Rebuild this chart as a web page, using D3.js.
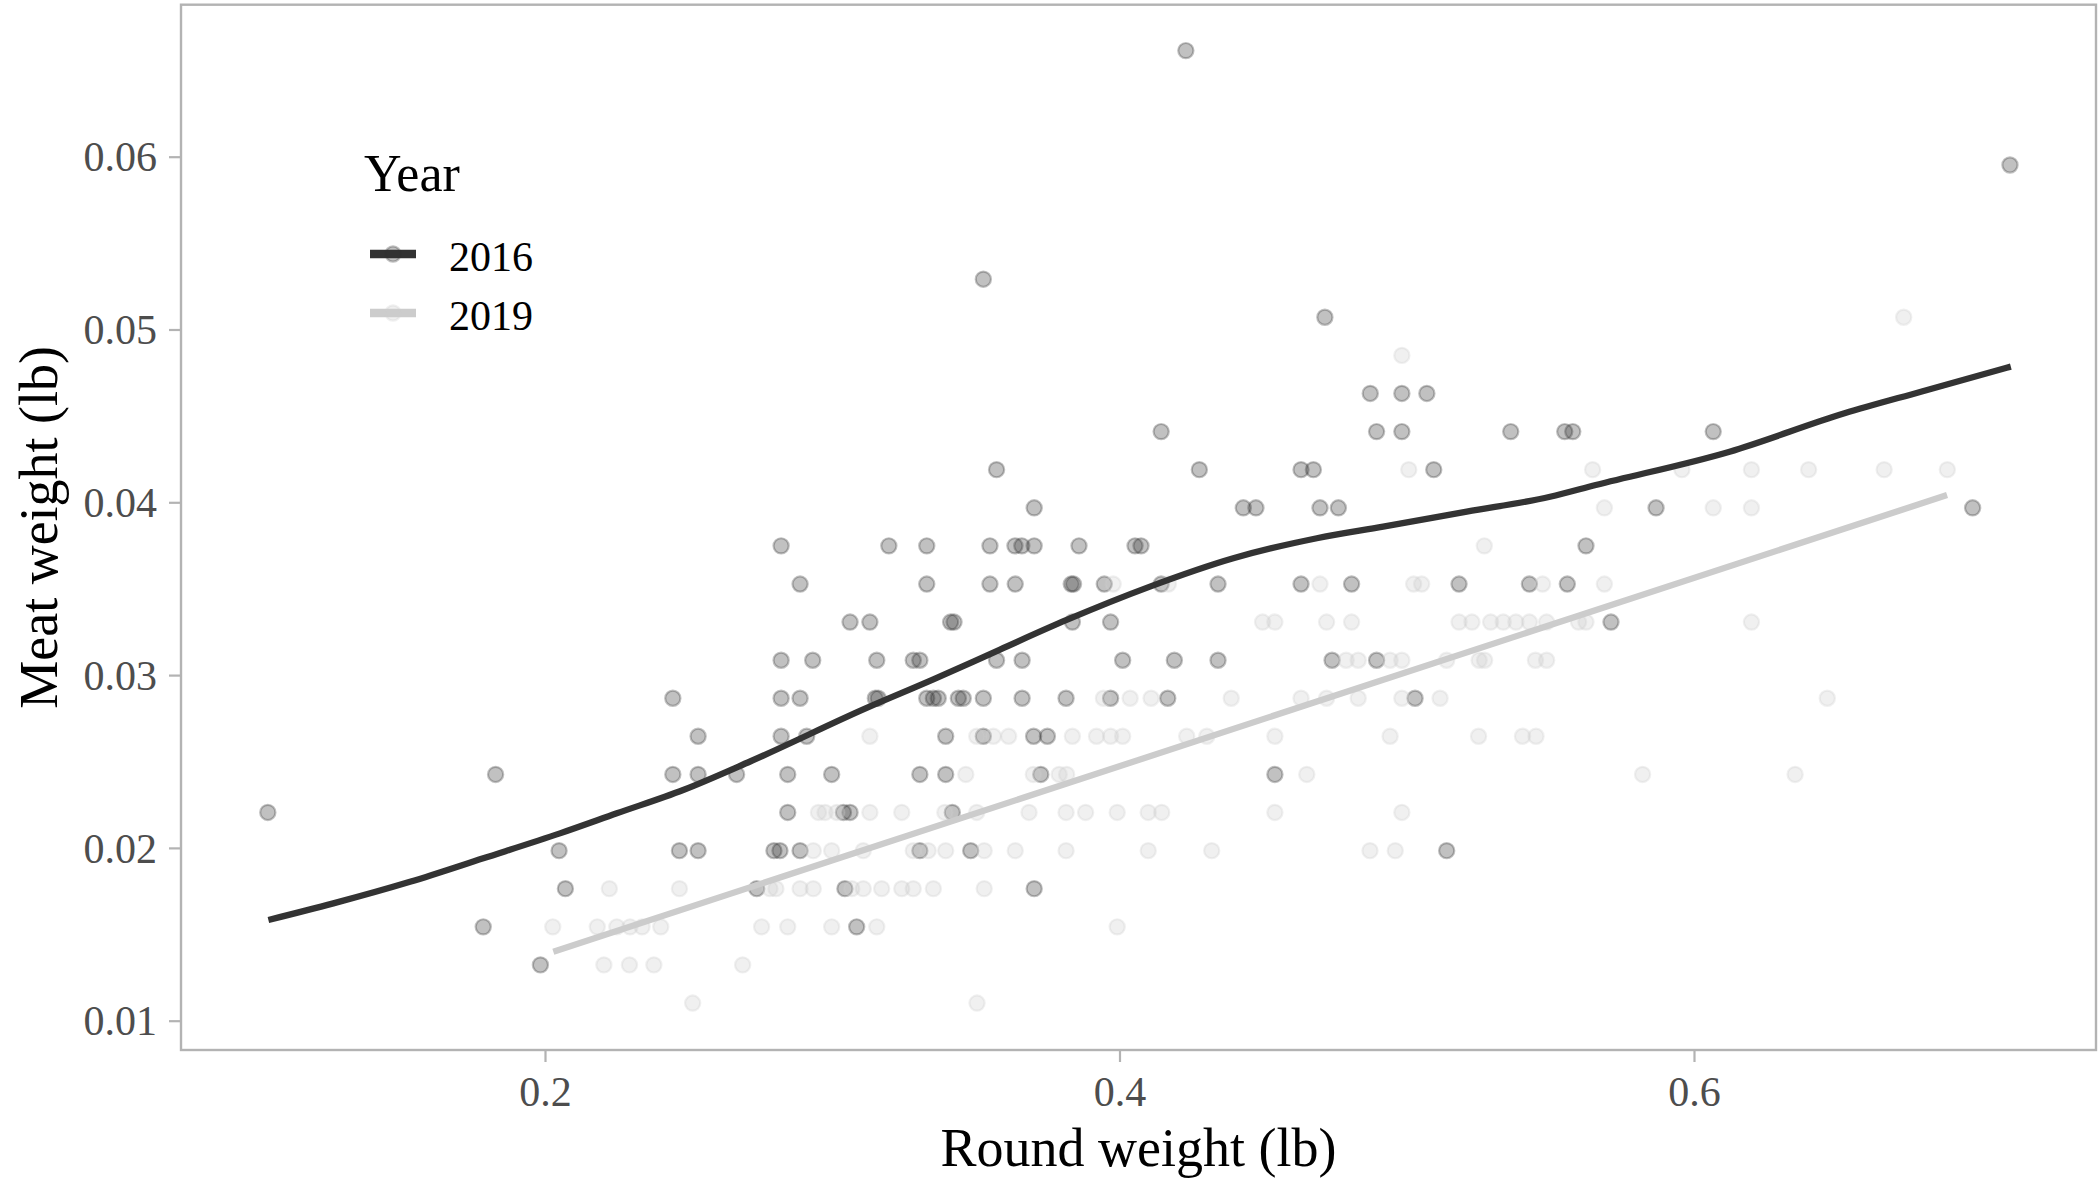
<!DOCTYPE html>
<html>
<head>
<meta charset="utf-8">
<script src="https://cdn.jsdelivr.net/npm/d3@7"></script>
<style>
  html, body { margin: 0; padding: 0; background: #ffffff; }
  svg { display: block; }
  text { font-family: "Liberation Serif", "Times New Roman", serif; }
</style>
</head>
<body>
<svg id="chart" width="2100" height="1182"></svg>
<script>
// ---------- data (lb) ----------
const years = ["2016", "2019"];

const round2016 = [
  0.1984,
  0.1785, 0.3085,
  0.2071, 0.2737, 0.3044, 0.3703,
  0.2049, 0.2468, 0.2533, 0.2797, 0.2818, 0.2888, 0.3305, 0.3482, 0.5139,
  0.1035, 0.2845, 0.3039, 0.3062, 0.3418,
  0.1828, 0.2445, 0.2533, 0.2667, 0.2845, 0.2998, 0.3305, 0.3395, 0.3726, 0.4541,
  0.2533, 0.2822, 0.2911, 0.3395, 0.3526, 0.3701, 0.3749,
  0.2445, 0.2822, 0.2888, 0.3150, 0.3160, 0.3329, 0.3352, 0.3369, 0.3439, 0.3456, 0.3526, 0.3661, 0.3814, 0.3969, 0.4168, 0.5029,
  0.2822, 0.2932, 0.3155, 0.3282, 0.3305, 0.3572, 0.3661, 0.4011, 0.4191, 0.4343, 0.4740, 0.4895,
  0.3062, 0.3131, 0.3412, 0.3424, 0.3836, 0.3969, 0.5711,
  0.2888, 0.3329, 0.3549, 0.3637, 0.3832, 0.3840, 0.3947, 0.4145, 0.4343, 0.4632, 0.4808, 0.5182, 0.5427, 0.5559,
  0.2822, 0.3197, 0.3329, 0.3549, 0.3636, 0.3660, 0.3703, 0.3859, 0.4054, 0.4075, 0.5624,
  0.3703, 0.4431, 0.4475, 0.4698, 0.4762, 0.5868, 0.6970,
  0.3572, 0.4278, 0.4632, 0.4675, 0.5094,
  0.4145, 0.4895, 0.4983, 0.5362, 0.5550, 0.5578, 0.6067,
  0.4873, 0.4983, 0.5070,
  0.4715,
  0.3526,
  0.7100,
  0.4231
];
const meat2016 = [
  0.01323,
  0.01543, 0.01543,
  0.01764, 0.01764, 0.01764, 0.01764,
  0.01984, 0.01984, 0.01984, 0.01984, 0.01984, 0.01984, 0.01984, 0.01984, 0.01984,
  0.02205, 0.02205, 0.02205, 0.02205, 0.02205,
  0.02425, 0.02425, 0.02425, 0.02425, 0.02425, 0.02425, 0.02425, 0.02425, 0.02425, 0.02425,
  0.02646, 0.02646, 0.02646, 0.02646, 0.02646, 0.02646, 0.02646,
  0.02866, 0.02866, 0.02866, 0.02866, 0.02866, 0.02866, 0.02866, 0.02866, 0.02866, 0.02866, 0.02866, 0.02866, 0.02866, 0.02866, 0.02866, 0.02866,
  0.03086, 0.03086, 0.03086, 0.03086, 0.03086, 0.03086, 0.03086, 0.03086, 0.03086, 0.03086, 0.03086, 0.03086,
  0.03307, 0.03307, 0.03307, 0.03307, 0.03307, 0.03307, 0.03307,
  0.03527, 0.03527, 0.03527, 0.03527, 0.03527, 0.03527, 0.03527, 0.03527, 0.03527, 0.03527, 0.03527, 0.03527, 0.03527, 0.03527,
  0.03748, 0.03748, 0.03748, 0.03748, 0.03748, 0.03748, 0.03748, 0.03748, 0.03748, 0.03748, 0.03748,
  0.03968, 0.03968, 0.03968, 0.03968, 0.03968, 0.03968, 0.03968,
  0.04189, 0.04189, 0.04189, 0.04189, 0.04189,
  0.04409, 0.04409, 0.04409, 0.04409, 0.04409, 0.04409, 0.04409,
  0.04630, 0.04630, 0.04630,
  0.05071,
  0.05291,
  0.05952,
  0.06614
];

const round2019 = [
  0.2514, 0.3504,
  0.2205, 0.2294, 0.2379, 0.2688,
  0.2027, 0.2182, 0.2250, 0.2296, 0.2338, 0.2403, 0.2754, 0.2845, 0.2998, 0.3155, 0.3992,
  0.2224, 0.2468, 0.2783, 0.2804, 0.2888, 0.2934, 0.3068, 0.3108, 0.3172, 0.3242, 0.3282, 0.3352, 0.3529,
  0.2934, 0.2998, 0.3108, 0.3282, 0.3334, 0.3395, 0.3529, 0.3637, 0.3814, 0.4100, 0.4321, 0.4872, 0.4960,
  0.2952, 0.2975, 0.3016, 0.3131, 0.3242, 0.3392, 0.3503, 0.3685, 0.3814, 0.3882, 0.3992, 0.4100, 0.4147, 0.4541, 0.4983,
  0.3465, 0.3700, 0.3790, 0.3816, 0.4652, 0.5821, 0.6352,
  0.3131, 0.3503, 0.3561, 0.3614, 0.3836, 0.3920, 0.3969, 0.4011, 0.4234, 0.4304, 0.4541, 0.4942, 0.5250, 0.5403, 0.5450,
  0.3944, 0.4037, 0.4110, 0.4389, 0.4632, 0.4721, 0.4831, 0.4983, 0.5116, 0.6464,
  0.4789, 0.4831, 0.4942, 0.4983, 0.5139, 0.5252, 0.5271, 0.5448, 0.5487,
  0.4498, 0.4541, 0.4721, 0.4808, 0.5182, 0.5227, 0.5292, 0.5336, 0.5380, 0.5427, 0.5487, 0.5598, 0.5624, 0.6200,
  0.3978, 0.4170, 0.4698, 0.5024, 0.5052, 0.5473, 0.5688,
  0.5270,
  0.5688, 0.6067, 0.6200,
  0.5007, 0.5647, 0.5958, 0.6200, 0.6399, 0.6662, 0.6882,
  0.4983,
  0.6730
];
const meat2019 = [
  0.01102, 0.01102,
  0.01323, 0.01323, 0.01323, 0.01323,
  0.01543, 0.01543, 0.01543, 0.01543, 0.01543, 0.01543, 0.01543, 0.01543, 0.01543, 0.01543, 0.01543,
  0.01764, 0.01764, 0.01764, 0.01764, 0.01764, 0.01764, 0.01764, 0.01764, 0.01764, 0.01764, 0.01764, 0.01764, 0.01764,
  0.01984, 0.01984, 0.01984, 0.01984, 0.01984, 0.01984, 0.01984, 0.01984, 0.01984, 0.01984, 0.01984, 0.01984, 0.01984,
  0.02205, 0.02205, 0.02205, 0.02205, 0.02205, 0.02205, 0.02205, 0.02205, 0.02205, 0.02205, 0.02205, 0.02205, 0.02205, 0.02205, 0.02205,
  0.02425, 0.02425, 0.02425, 0.02425, 0.02425, 0.02425, 0.02425,
  0.02646, 0.02646, 0.02646, 0.02646, 0.02646, 0.02646, 0.02646, 0.02646, 0.02646, 0.02646, 0.02646, 0.02646, 0.02646, 0.02646, 0.02646,
  0.02866, 0.02866, 0.02866, 0.02866, 0.02866, 0.02866, 0.02866, 0.02866, 0.02866, 0.02866,
  0.03086, 0.03086, 0.03086, 0.03086, 0.03086, 0.03086, 0.03086, 0.03086, 0.03086,
  0.03307, 0.03307, 0.03307, 0.03307, 0.03307, 0.03307, 0.03307, 0.03307, 0.03307, 0.03307, 0.03307, 0.03307, 0.03307, 0.03307,
  0.03527, 0.03527, 0.03527, 0.03527, 0.03527, 0.03527, 0.03527,
  0.03748,
  0.03968, 0.03968, 0.03968,
  0.04189, 0.04189, 0.04189, 0.04189, 0.04189, 0.04189, 0.04189,
  0.04850,
  0.05071
];

// smoothed trend lines
const smooth2016X = [0.1037, 0.1263, 0.1530, 0.1785, 0.2052, 0.2250, 0.2481, 0.2714, 0.3120, 0.3352, 0.3584, 0.3816, 0.4106, 0.4396, 0.4687, 0.4918, 0.5209, 0.5499, 0.5658, 0.6124, 0.6524, 0.6790, 0.7103];
const smooth2016Y = [0.01583, 0.01679, 0.01804, 0.01940, 0.02084, 0.02200, 0.02335, 0.02500, 0.02810, 0.02975, 0.03148, 0.03319, 0.03512, 0.03676, 0.03792, 0.03859, 0.03946, 0.04032, 0.04100, 0.04293, 0.04515, 0.04640, 0.04785];
const fit2019X = [0.2029, 0.6881];
const fit2019Y = [0.01399, 0.04042];

const xTicks = [0.2, 0.4, 0.6];
const yTicks = [0.01, 0.02, 0.03, 0.04, 0.05, 0.06];
const xTitle = "Round weight (lb)";
const yTitle = "Meat weight (lb)";
const legendTitle = "Year";

// ---------- layout ----------
const panel = { left: 181, right: 2096, top: 4.7, bottom: 1050 };
const pointColor = { "2016": "#333333", "2019": "#cccccc" };
const gridGrey = "#b3b3b3";
const labelGrey = "#4d4d4d";

const x = d3.scaleLinear().domain([0.07328, 0.73995]).range([panel.left, panel.right]);
const y = d3.scaleLinear().domain([0.008304, 0.068796]).range([panel.bottom, panel.top]);

const svg = d3.select("#chart");
svg.append("rect").attr("width", 2100).attr("height", 1182).attr("fill", "#ffffff");

const plot = svg.append("g");

// points
const series = [
  { year: "2016", xs: round2016, ys: meat2016 },
  { year: "2019", xs: round2019, ys: meat2019 }
];
series.forEach(s => {
  const pts = s.xs.map((v, i) => [v, s.ys[i]]);
  plot.append("g").selectAll("circle").data(pts).join("circle")
    .attr("cx", d => x(d[0]))
    .attr("cy", d => y(d[1]))
    .attr("r", 7.6)
    .attr("fill", pointColor[s.year])
    .attr("fill-opacity", 0.3)
    .attr("stroke", pointColor[s.year])
    .attr("stroke-opacity", 0.3)
    .attr("stroke-width", 2.2);
});

// trend lines
const line = d3.line().x(d => x(d[0])).y(d => y(d[1])).curve(d3.curveMonotoneX);
plot.append("path")
  .datum(smooth2016X.map((v, i) => [v, smooth2016Y[i]]))
  .attr("d", line).attr("fill", "none")
  .attr("stroke", pointColor["2016"]).attr("stroke-width", 6.3);
plot.append("path")
  .datum(fit2019X.map((v, i) => [v, fit2019Y[i]]))
  .attr("d", line).attr("fill", "none")
  .attr("stroke", pointColor["2019"]).attr("stroke-width", 6.3);

// panel border
svg.append("rect")
  .attr("x", panel.left).attr("y", panel.top)
  .attr("width", panel.right - panel.left).attr("height", panel.bottom - panel.top)
  .attr("fill", "none").attr("stroke", gridGrey).attr("stroke-width", 2.4);

// axes
const xAxis = d3.axisBottom(x).tickValues(xTicks).tickSize(12).tickPadding(14)
  .tickFormat(d3.format(".1f"));
const gx = svg.append("g").attr("transform", `translate(0,${panel.bottom})`).call(xAxis);
gx.select(".domain").remove();
gx.selectAll(".tick line").attr("stroke", gridGrey).attr("stroke-width", 2.2);
gx.selectAll(".tick text").attr("fill", labelGrey).attr("font-size", 42)
  .attr("font-family", "Liberation Serif, Times New Roman, serif").attr("dy", "0.71em");

const yAxis = d3.axisLeft(y).tickValues(yTicks).tickSize(12).tickPadding(12)
  .tickFormat(d3.format(".2f"));
const gy = svg.append("g").attr("transform", `translate(${panel.left},0)`).call(yAxis);
gy.select(".domain").remove();
gy.selectAll(".tick line").attr("stroke", gridGrey).attr("stroke-width", 2.2);
gy.selectAll(".tick text").attr("fill", labelGrey).attr("font-size", 42)
  .attr("font-family", "Liberation Serif, Times New Roman, serif").attr("dy", "0.34em");

// titles
svg.append("text")
  .attr("x", (panel.left + panel.right) / 2).attr("y", 1166)
  .attr("text-anchor", "middle").attr("font-size", 54).attr("fill", "#000")
  .text(xTitle);
svg.append("text")
  .attr("transform", `translate(57,${(panel.top + panel.bottom) / 2}) rotate(-90)`)
  .attr("text-anchor", "middle").attr("font-size", 54).attr("fill", "#000")
  .text(yTitle);

// legend
const legend = svg.append("g");
legend.append("text").attr("x", 364).attr("y", 191).attr("font-size", 52).attr("fill", "#000")
  .text(legendTitle);
const legendRows = [254, 313];
years.forEach((yr, i) => {
  const cy = legendRows[i];
  legend.append("line").attr("x1", 370).attr("x2", 416).attr("y1", cy).attr("y2", cy)
    .attr("stroke", pointColor[yr]).attr("stroke-width", 8.5);
  legend.append("circle").attr("cx", 393).attr("cy", cy).attr("r", 7.6)
    .attr("fill", pointColor[yr]).attr("fill-opacity", 0.3)
    .attr("stroke", pointColor[yr]).attr("stroke-opacity", 0.3).attr("stroke-width", 2.2);
  legend.append("text").attr("x", 449).attr("y", cy + 17).attr("font-size", 42).attr("fill", "#000")
    .text(yr);
});
</script>
</body>
</html>
